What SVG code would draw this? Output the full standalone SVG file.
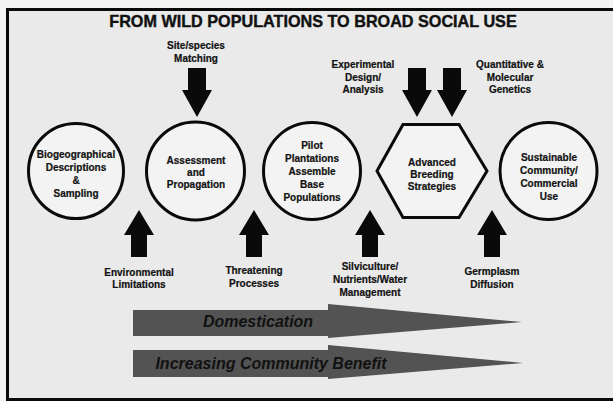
<svg xmlns="http://www.w3.org/2000/svg" xmlns:xlink="http://www.w3.org/1999/xlink" width="613" height="401" viewBox="0 0 613 401">
  <style>
    text { font-family: "Liberation Sans", Arial, sans-serif; font-weight: bold; fill: #111; text-anchor: middle; }
    .lbl { font-size: 10px; stroke: #111; stroke-width: 0.2; }
    .title { font-size: 16.2px; stroke: #111; stroke-width: 0.4; }
    .band { font-size: 16px; font-style: italic; }
    .node { fill: #f3f3f3; stroke: #0a0a0a; stroke-width: 3; }
    .arrow { fill: #0a0a0a; }
    .wedge { fill: #535353; }
  </style>
  <defs>
    <!-- block arrow pointing down, tip at origin -->
    <path id="down" d="M-9,-49 L9,-49 L9,-27 L15,-27 L0,0 L-15,-27 L-9,-27 Z"/>
    <!-- block arrow pointing up, tip at origin -->
    <path id="up" d="M0,0 L15,25 L8,25 L8,47 L-8,47 L-8,25 L-15,25 Z"/>
  </defs>

  <!-- page and frame -->
  <rect x="0" y="0" width="613" height="401" fill="#f4f4f4"/>
  <rect x="7.5" y="9.5" width="620" height="390" fill="#eaeaea" stroke="#0a0a0a" stroke-width="3"/>

  <text class="title" x="313" y="27">FROM WILD POPULATIONS TO BROAD SOCIAL USE</text>

  <!-- process stages -->
  <g id="biogeographical">
    <circle class="node" cx="76" cy="171" r="47.5"/>
    <text class="lbl" x="76" y="158">Biogeographical</text>
    <text class="lbl" x="76" y="171">Descriptions</text>
    <text class="lbl" x="76" y="184">&amp;</text>
    <text class="lbl" x="76" y="197">Sampling</text>
  </g>
  <g id="assessment">
    <circle class="node" cx="195.5" cy="171" r="49"/>
    <text class="lbl" x="196" y="164">Assessment</text>
    <text class="lbl" x="196" y="176">and</text>
    <text class="lbl" x="196" y="188">Propagation</text>
  </g>
  <g id="pilot-plantations">
    <circle class="node" cx="312" cy="171" r="48.5"/>
    <text class="lbl" x="312" y="149">Pilot</text>
    <text class="lbl" x="312" y="162">Plantations</text>
    <text class="lbl" x="312" y="175">Assemble</text>
    <text class="lbl" x="312" y="188">Base</text>
    <text class="lbl" x="312" y="201">Populations</text>
  </g>
  <g id="advanced-breeding">
    <polygon class="node" points="377,171 403,124.5 459,124.5 487,171 459,217.5 403,217.5"/>
    <text class="lbl" x="432" y="166">Advanced</text>
    <text class="lbl" x="432" y="178">Breeding</text>
    <text class="lbl" x="432" y="190">Strategies</text>
  </g>
  <g id="sustainable-use">
    <circle class="node" cx="548.5" cy="171" r="48.5"/>
    <text class="lbl" x="549" y="161">Sustainable</text>
    <text class="lbl" x="549" y="174">Community/</text>
    <text class="lbl" x="549" y="187">Commercial</text>
    <text class="lbl" x="549" y="200">Use</text>
  </g>

  <!-- inputs acting on the stages -->
  <g id="connectors">
    <use class="arrow" xlink:href="#down" transform="translate(197,117)"/>
    <use class="arrow" xlink:href="#down" transform="translate(417,117)"/>
    <use class="arrow" xlink:href="#down" transform="translate(452,117)"/>
    <use class="arrow" xlink:href="#up" transform="translate(139,210)"/>
    <use class="arrow" xlink:href="#up" transform="translate(254,210)"/>
    <use class="arrow" xlink:href="#up" transform="translate(370,210)"/>
    <use class="arrow" xlink:href="#up" transform="translate(492,210)"/>
  </g>

  <g id="input-labels">
    <text class="lbl" x="196" y="49">Site/species</text>
    <text class="lbl" x="196" y="62">Matching</text>
    <text class="lbl" x="363" y="68">Experimental</text>
    <text class="lbl" x="363" y="81">Design/</text>
    <text class="lbl" x="363" y="93">Analysis</text>
    <text class="lbl" x="510" y="68">Quantitative &amp;</text>
    <text class="lbl" x="510" y="81">Molecular</text>
    <text class="lbl" x="510" y="93">Genetics</text>
    <text class="lbl" x="139" y="276">Environmental</text>
    <text class="lbl" x="139" y="288">Limitations</text>
    <text class="lbl" x="254" y="274">Threatening</text>
    <text class="lbl" x="254" y="287">Processes</text>
    <text class="lbl" x="370" y="270">Silviculture/</text>
    <text class="lbl" x="370" y="283">Nutrients/Water</text>
    <text class="lbl" x="370" y="296">Management</text>
    <text class="lbl" x="492" y="275">Germplasm</text>
    <text class="lbl" x="492" y="288">Diffusion</text>
  </g>

  <!-- trend bands -->
  <g id="domestication">
    <path class="wedge" d="M133,310 L328,310 L328,304 L522,322 L328,338 L328,336 L133,336 Z"/>
    <text class="band" x="258" y="327">Domestication</text>
  </g>
  <g id="community-benefit">
    <path class="wedge" d="M133,350 L328,350 L328,345 L523,363 L328,379 L328,377 L133,377 Z"/>
    <text class="band" x="271" y="369">Increasing Community Benefit</text>
  </g>
</svg>
